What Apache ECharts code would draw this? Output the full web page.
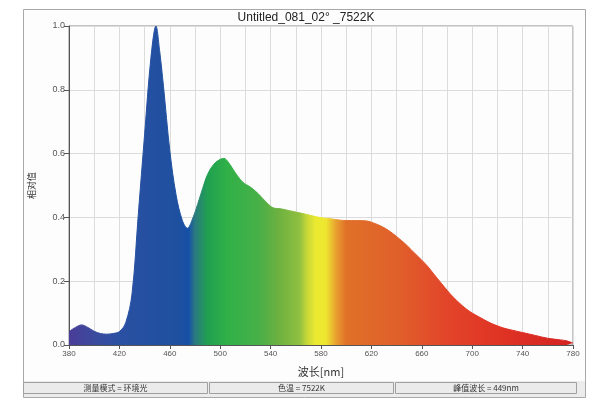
<!DOCTYPE html>
<html>
<head>
<meta charset="utf-8">
<script src="https://cdn.jsdelivr.net/npm/echarts@6/dist/echarts.min.js"></script>
<style>
html,body{margin:0;padding:0;background:#fff;}
#chart{width:600px;height:406px;}
</style>
</head>
<body>
<div id="chart"></div>
<script>
var wavelengths = [380,385,390,395,400,405,410,415,420,425,430,435,440,445,449,452,455,460,465,470,474,478,482,486,490,495,500,503,507,512,518,524,530,536,542,548,555,562,568,574,580,587,594,600,608,616,622,628,634,640,648,655,660,665,670,675,680,685,690,695,700,705,710,715,720,725,730,740,750,760,770,775,780];
var values = [0.042,0.055,0.063,0.055,0.043,0.036,0.034,0.036,0.042,0.07,0.16,0.41,0.66,0.90,1.0,0.92,0.81,0.61,0.47,0.39,0.366,0.395,0.44,0.49,0.535,0.567,0.582,0.585,0.57,0.54,0.51,0.495,0.475,0.45,0.43,0.427,0.421,0.415,0.41,0.404,0.399,0.396,0.392,0.39,0.39,0.389,0.382,0.372,0.358,0.34,0.313,0.285,0.266,0.245,0.22,0.196,0.172,0.15,0.131,0.114,0.1,0.089,0.078,0.068,0.06,0.053,0.048,0.039,0.03,0.021,0.016,0.013,0.006];
var xTicks = [380,420,460,500,540,580,620,660,700,740,780];
var yTicks = [0.0,0.2,0.4,0.6,0.8,1.0];
var titleText = 'Untitled_081_02° _7522K';
var xName = '波长[nm]';
var yName = '相对值';
var statusTexts = ['测量模式 = 环境光', '色温 = 7522K', '峰值波长 = 449nm'];
var spectrumStops = [
  [380,'#4a3d98'],[400,'#3b4a9e'],[420,'#2a50a2'],[468,'#1e50a0'],[475,'#1650a8'],
  [480,'#2a7a80'],[490,'#20a050'],[505,'#30b048'],[531,'#48b048'],[545,'#6ab040'],
  [563,'#90c040'],[569,'#c8d838'],[576,'#ecea30'],[584,'#eee630'],[592,'#e8a030'],
  [600,'#e07028'],[640,'#e0602a'],[680,'#e2452a'],[720,'#e03424'],[780,'#d42222']
];

var data = wavelengths.map(function(w,i){return [w, values[i]];});
var stops = spectrumStops.map(function(s){return {offset:(s[0]-380)/400, color:s[1]};});
function grad(){ return new echarts.graphic.LinearGradient(0,0,1,0,stops); }

var chart = echarts.init(document.getElementById('chart'), null, {renderer:'canvas'});
var panelX = [[23,208],[209,394],[395,577]];
var graphics = [
  {type:'rect', shape:{x:23.5,y:9.5,width:562,height:388}, style:{fill:'#fdfdfd',stroke:'#a8a8a8',lineWidth:1}, z:-10},
  {type:'rect', shape:{x:24,y:381,width:561,height:16}, style:{fill:'#ececec',stroke:null}, z:-9},
  {type:'text', x:306, y:18, style:{text:titleText, textAlign:'center', textVerticalAlign:'middle', font:'12px "Liberation Sans", Arial, sans-serif', fill:'#222'}}
];
panelX.forEach(function(p,i){
  graphics.push({type:'rect', shape:{x:p[0]+0.5,y:382.5,width:p[1]-p[0]-1,height:11}, style:{fill:'#ebebeb',stroke:'#a0a0a0',lineWidth:1}, z:-8});
  graphics.push({type:'text', x:(p[0]+p[1])/2, y:388, style:{text:statusTexts[i], textAlign:'center', textVerticalAlign:'middle', font:'8px "Noto Sans CJK SC", sans-serif', fill:'#333'}});
});

chart.setOption({
  backgroundColor:'#ffffff',
  animation:false,
  graphic:graphics,
  grid:{left:69, right:27, top:26, bottom:61, show:true, borderColor:'#8a8a8a', borderWidth:1, backgroundColor:'rgba(0,0,0,0)'},
  xAxis:{
    type:'value', min:380, max:780, interval:40,
    name:xName, nameLocation:'middle', nameGap:21,
    nameTextStyle:{fontSize:11, color:'#333', fontFamily:'"Noto Sans CJK SC", sans-serif'},
    axisLine:{show:true, lineStyle:{color:'#555'}},
    axisTick:{show:true, length:4, lineStyle:{color:'#555'}},
    axisLabel:{fontSize:8, color:'#555', margin:5, fontFamily:'"Liberation Sans", Arial, sans-serif',
      formatter:function(v){return xTicks.indexOf(v)>=0 ? String(v) : '';}},
    splitLine:{show:true, lineStyle:{color:'#dcdcdc', width:1}},
    minorTick:{show:false, splitNumber:2},
    minorSplitLine:{show:true, lineStyle:{color:'#dcdcdc', width:1}}
  },
  yAxis:{
    type:'value', min:0, max:1, interval:0.2,
    name:yName, nameLocation:'middle', nameGap:33,
    nameTextStyle:{fontSize:9, color:'#333', fontFamily:'"Noto Sans CJK SC", sans-serif'},
    axisLine:{show:true, lineStyle:{color:'#555'}},
    axisTick:{show:true, length:5, lineStyle:{color:'#555'}},
    axisLabel:{fontSize:9, color:'#555', margin:4, fontFamily:'"Liberation Sans", Arial, sans-serif',
      formatter:function(v){
        for (var i=0;i<yTicks.length;i++){ if (Math.abs(yTicks[i]-v)<1e-6) return yTicks[i].toFixed(1); }
        return '';
      }},
    splitLine:{show:true, lineStyle:{color:'#dcdcdc', width:1}}
  },
  series:[{
    type:'line', data:data, smooth:0.35, symbol:'none',
    lineStyle:{width:1, color:grad()},
    areaStyle:{color:grad(), opacity:1},
    z:3
  }]
});
</script>
</body>
</html>
